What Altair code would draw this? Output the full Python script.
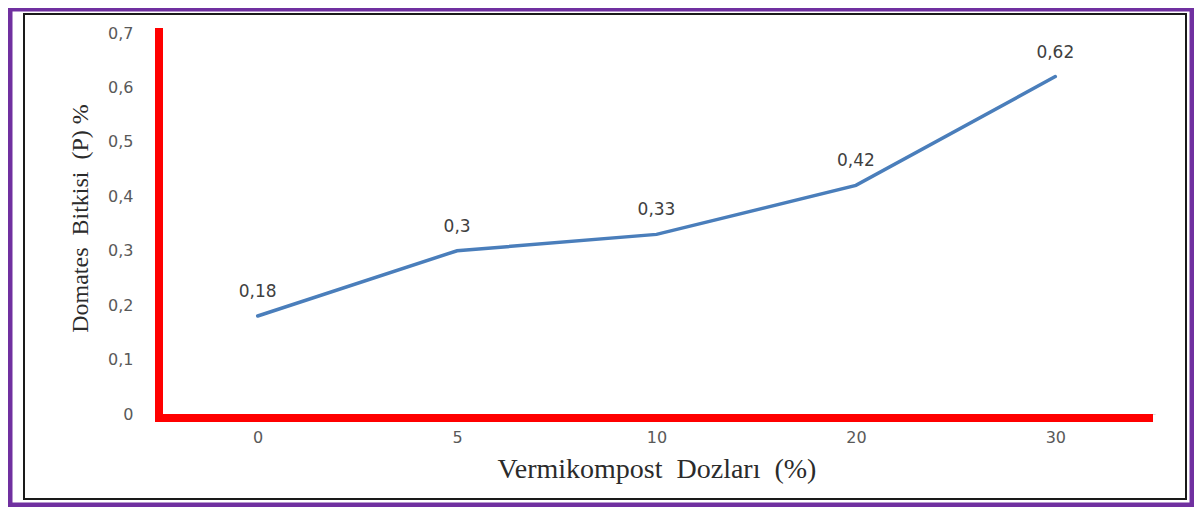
import altair as alt
import pandas as pd

doses = ["0", "5", "10", "20", "30"]
p_values = [0.18, 0.3, 0.33, 0.42, 0.62]
y_ticks = [0, 0.1, 0.2, 0.3, 0.4, 0.5, 0.6, 0.7]

x_title = "Vermikompost\u00a0 Dozları\u00a0 (%)"
y_title = "Domates\u00a0 Bitkisi\u00a0 (P) %"

df = pd.DataFrame({"doz": doses, "P": p_values})

W, H = 997, 381
LABEL_FONT = "DejaVu Sans"
TITLE_FONT = "Liberation Serif"

x_enc = alt.X(
    "doz:N",
    sort=doses,
    scale=alt.Scale(paddingInner=0, paddingOuter=0),
    axis=alt.Axis(
        title=x_title,
        titleFont=TITLE_FONT,
        titleFontSize=28,
        titleFontWeight="normal",
        titleColor="#2b2b2b",
        titleBaseline="alphabetic",
        titleX=W / 2,
        titleY=63,
        labelAngle=0,
        labelFont=LABEL_FONT,
        labelFontSize=16,
        labelColor="#595959",
        labelPadding=10,
        domainColor="#d9d9d9",
        tickColor="#d9d9d9",
        tickSize=5,
        bandPosition=0,
        grid=False,
    ),
)

y_enc = alt.Y(
    "P:Q",
    scale=alt.Scale(domain=[0, 0.7], nice=False, zero=True),
    axis=alt.Axis(
        title=y_title,
        titleFont=TITLE_FONT,
        titleFontSize=24,
        titleFontWeight="normal",
        titleColor="#2b2b2b",
        titleAngle=270,
        titleBaseline="alphabetic",
        titleAlign="center",
        titleX=-71,
        titleY=185,
        values=y_ticks,
        labelExpr="datum.value == 0 ? '0' : replace(format(datum.value, '.1f'), '.', ',')",
        labelFont=LABEL_FONT,
        labelFontSize=16,
        labelColor="#595959",
        labelPadding=25,
        ticks=False,
        domain=False,
        grid=False,
    ),
)

one = alt.Data(values=[{}])

purple = alt.Chart(one).mark_rect(
    fill=None, stroke="#7030a0", strokeWidth=9, opacity=1
).encode(
    x=alt.value(-150), x2=alt.value(1036),
    y=alt.value(-26), y2=alt.value(474),
)

black = alt.Chart(one).mark_rect(
    fill=None, stroke="#1a1a1a", strokeWidth=2
).encode(
    x=alt.value(-134), x2=alt.value(1028),
    y=alt.value(-19), y2=alt.value(466),
)

base = alt.Chart(df)

line = base.mark_line(color="#4a7ebb", strokeWidth=3.5, strokeCap="round").encode(
    x=x_enc, y=y_enc
)

labels = base.transform_calculate(
    lab="replace(toString(datum.P), '.', ',')"
).mark_text(
    font=LABEL_FONT, fontSize=17, color="#404040", dy=-24, baseline="middle"
).encode(x=alt.X("doz:N", sort=doses), y="P:Q", text="lab:N")

red_v = alt.Chart(one).mark_rule(color="#ff0000", strokeWidth=8).encode(
    x=alt.value(1), y=alt.value(-5), y2=alt.value(389)
)
red_h = alt.Chart(one).mark_rule(color="#ff0000", strokeWidth=8).encode(
    x=alt.value(-3), x2=alt.value(W - 2), y=alt.value(385)
)

chart = alt.layer(purple, black, line, labels, red_v, red_h).properties(
    width=W,
    height=H,
    padding={"left": 150, "top": 25, "right": 39, "bottom": 93},
    autosize=alt.AutoSizeParams(type="none"),
    background="white",
).configure_view(stroke=None)

chart.save("out.html", embed_options={"renderer": "svg", "actions": False})
